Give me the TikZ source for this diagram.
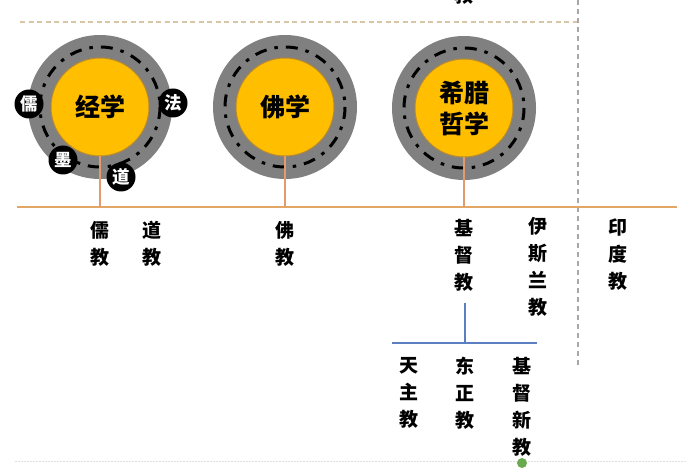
\documentclass[tikz,border=0pt]{standalone}
\usepackage{fontspec}
\newfontfamily\cjk{Noto Sans CJK SC}
\definecolor{ringgray}{HTML}{808080}
\definecolor{gold}{HTML}{FFBF00}
\definecolor{goldedge}{HTML}{B98A2E}
\definecolor{axisorange}{HTML}{E2A766}
\definecolor{stemorange}{HTML}{E59A6C}
\definecolor{tandash}{HTML}{D8C6A6}
\definecolor{greydash}{HTML}{A8A8A8}
\definecolor{bluebar}{HTML}{5C7FC2}
\definecolor{greendot}{HTML}{6AAA4E}
\begin{document}
\begin{tikzpicture}[x=1pt,y=-1pt,
  outer/.style={circle, fill=ringgray, minimum size=144pt, inner sep=0pt},
  core/.style={circle, fill=gold, draw=goldedge, line width=1pt, minimum size=98pt, inner sep=0pt, align=center, font=\cjk\bfseries\fontsize{25}{31}\selectfont},
  ringline/.style={draw=black, line width=3pt, dash pattern=on 12pt off 8pt on 3.5pt off 8pt},
  badge/.style={circle, fill=black, minimum size=29pt, inner sep=0pt, text=white, font=\cjk\bfseries\fontsize{17.5}{17.5}\selectfont},
  lbl/.style={anchor=north, inner sep=0pt, align=center, font=\cjk\bfseries\fontsize{19}{27}\selectfont},
  stem/.style={draw=stemorange, line width=1.8pt},
  axis/.style={draw=axisorange, line width=2pt},
  bar/.style={draw=bluebar, line width=2pt}]
\useasboundingbox (0,0) rectangle (700,470);
\fill[white] (0,0) rectangle (700,470);
% labels cut by the top edge, as in the reference
\node[lbl] (topl) at (41,-20) {教};
\node[lbl] (topr) at (464,-14) {教};
% guides
\coordinate (gl) at (20,22);
\coordinate (gc) at (578,22);
\coordinate (gt) at (578,0);
\coordinate (gb) at (578,365);
\draw[draw=tandash, line width=1.6pt, dash pattern=on 5pt off 3.5pt] (gl) -- (gc);
\draw[draw=greydash, line width=1.3pt, dash pattern=on 5pt off 4pt] (gt) -- (gb);
\coordinate (fl) at (15,461);
\coordinate (fr) at (686,461);
\draw[draw=black!12, line width=0.8pt, dash pattern=on 1.5pt off 1.5pt] (fl) -- (fr);
% axis
\coordinate (al) at (17,207);
\coordinate (ar) at (677,207);
\draw[axis] (al) -- (ar);
% circles
\node[outer] (o1) at (100,107) {};
\node[outer] (o2) at (285,107) {};
\node[outer] (o3) at (464,108) {};
\draw[ringline] (o1.center) circle[radius=60];
\draw[ringline] (o2.center) circle[radius=60];
\draw[ringline] (o3.center) circle[radius=60];
\node[core] (c1) at (o1.center) {经学};
\node[core] (c2) at (o2.center) {佛学};
\node[core] (c3) at (o3.center) {希腊\\哲学};
% stems
\draw[stem] (c1.south) -- (c1.south |- al);
\draw[stem] (c2.south) -- (c2.south |- al);
\draw[stem] (c3.south) -- (c3.south |- al);
% badges
\node[badge] (ru) at (29,104) {儒};
\node[badge] (fa) at (173,103) {法};
\node[badge] (mo) at (63,160) {墨};
\node[badge] (dao) at (121,177) {道};
% labels under axis
\node[lbl] (l1) at (100,221) {儒\\教};
\node[lbl] (l2) at (152,221) {道\\教};
\node[lbl] (l3) at (285,221) {佛\\教};
\node[lbl] (l4) at (464,219) {基\\督\\教};
\node[lbl] (l5) at (538,217) {伊\\斯\\兰\\教};
\node[lbl] (l6) at (618,219) {印\\度\\教};
% blue branch
\coordinate (bt) at (465,303);
\coordinate (bj) at (465,343);
\coordinate (bl) at (392,343);
\coordinate (br) at (537,343);
\draw[bar] (bt) -- (bj);
\draw[bar] (bl) -- (br);
\node[lbl] (s1) at (409,357) {天\\主\\教};
\node[lbl] (s2) at (465,357) {东\\正\\教};
\node[lbl] (s3) at (522,357) {基\\督\\新\\教};
\fill[greendot] (522,463) circle[radius=5];
\end{tikzpicture}
\end{document}
